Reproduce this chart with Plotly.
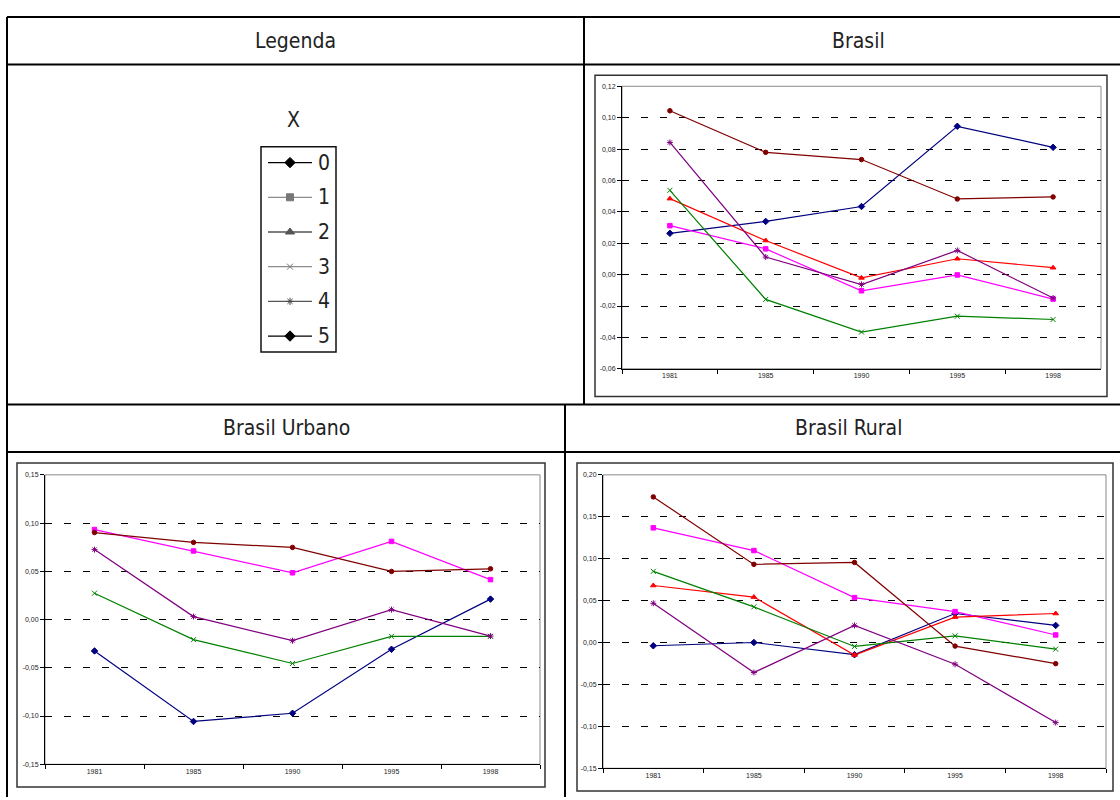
import plotly.graph_objects as go

# ---- data -------------------------------------------------------------
YEARS = ["1981", "1985", "1990", "1995", "1998"]
SERIES_NAMES = ["0", "1", "2", "3", "4", "5"]

# Brasil
brasil_0 = [0.0263, 0.0339, 0.0434, 0.0945, 0.0811]
brasil_1 = [0.0312, 0.0164, -0.0103, -0.0002, -0.0156]
brasil_2 = [0.0484, 0.0217, -0.0021, 0.0101, 0.0044]
brasil_3 = [0.0537, -0.0158, -0.0366, -0.0265, -0.0286]
brasil_4 = [0.0842, 0.0112, -0.0063, 0.0154, -0.0149]
brasil_5 = [0.1044, 0.0779, 0.0733, 0.0482, 0.0495]

# Brasil Urbano
urbano_0 = [-0.0325, -0.1056, -0.0971, -0.0308, 0.0212]
urbano_1 = [0.0933, 0.0711, 0.0485, 0.0810, 0.0414]
urbano_3 = [0.0273, -0.0208, -0.0455, -0.0174, -0.0174]
urbano_4 = [0.0725, 0.0031, -0.0219, 0.0103, -0.0171]
urbano_5 = [0.0902, 0.0800, 0.0748, 0.0499, 0.0526]

# Brasil Rural
rural_0 = [-0.0039, 0.0000, -0.0145, 0.0346, 0.0204]
rural_1 = [0.1368, 0.1097, 0.0535, 0.0369, 0.0090]
rural_2 = [0.0680, 0.0542, -0.0149, 0.0303, 0.0346]
rural_3 = [0.0849, 0.0425, -0.0047, 0.0079, -0.0079]
rural_4 = [0.0468, -0.0358, 0.0204, -0.0259, -0.0955]
rural_5 = [0.1737, 0.0932, 0.0955, -0.0043, -0.0252]

brasil_ticks = [-0.06, -0.04, -0.02, 0.0, 0.02, 0.04, 0.06, 0.08, 0.10, 0.12]
brasil_ticktext = ["-0,06", "-0,04", "-0,02", "0,00", "0,02", "0,04", "0,06", "0,08", "0,10", "0,12"]
urbano_ticks = [-0.15, -0.10, -0.05, 0.0, 0.05, 0.10, 0.15]
urbano_ticktext = ["-0,15", "-0,10", "-0,05", "0,00", "0,05", "0,10", "0,15"]
rural_ticks = [-0.15, -0.10, -0.05, 0.0, 0.05, 0.10, 0.15, 0.20]
rural_ticktext = ["-0,15", "-0,10", "-0,05", "0,00", "0,05", "0,10", "0,15", "0,20"]

HEADERS = ["Legenda", "Brasil", "Brasil Urbano", "Brasil Rural"]

# ---- styles -----------------------------------------------------------
W, H = 1120, 800
SERIES_STYLE = {
    "0": dict(color="#000080", symbol="diamond", size=5),
    "1": dict(color="#FF00FF", symbol="square", size=4.5),
    "2": dict(color="#FF0000", symbol="triangle-up", size=5),
    "3": dict(color="#008000", symbol="x-thin-open", size=5),
    "4": dict(color="#800080", symbol="asterisk-open", size=5),
    "5": dict(color="#800000", symbol="circle", size=4.5),
}
LEGEND_STYLE = {
    "0": dict(line="#000000", marker="#000000", symbol="diamond", size=8),
    "1": dict(line="#8c8c8c", marker="#777777", symbol="square", size=7),
    "2": dict(line="#555555", marker="#555555", symbol="triangle-up", size=8),
    "3": dict(line="#8c8c8c", marker="#777777", symbol="x-thin-open", size=6),
    "4": dict(line="#555555", marker="#444444", symbol="asterisk-open", size=6),
    "5": dict(line="#000000", marker="#000000", symbol="diamond", size=8),
}
HEAD_FONT = dict(family="Liberation Sans Narrow, DejaVu Sans Condensed, sans-serif", size=21, color="#222222")
TICK_FONT = dict(family="Liberation Sans, Arial, sans-serif", size=7, color="#222222")


def px(x):
    return x / W


def py(y):
    return 1 - y / H


fig = go.Figure()
shapes = []
annotations = []

panels = [
    dict(idx=1, plot=(622, 83, 1101, 368), frame=(595, 72, 1107, 396),
         yrange=(-0.06, 0.12), ticks=brasil_ticks, ticktext=brasil_ticktext,
         series={"0": brasil_0, "1": brasil_1, "2": brasil_2, "3": brasil_3, "4": brasil_4, "5": brasil_5}),
    dict(idx=2, plot=(45, 475, 540, 767), frame=(17, 463, 545, 790),
         yrange=(-0.15, 0.15), ticks=urbano_ticks, ticktext=urbano_ticktext,
         series={"0": urbano_0, "1": urbano_1, "3": urbano_3, "4": urbano_4, "5": urbano_5}),
    dict(idx=3, plot=(603, 475, 1106, 771), frame=(577, 463, 1113, 794),
         yrange=(-0.15, 0.20), ticks=rural_ticks, ticktext=rural_ticktext,
         series={"0": rural_0, "1": rural_1, "2": rural_2, "3": rural_3, "4": rural_4, "5": rural_5}),
]

layout_axes = {}
for p in panels:
    i = p["idx"]
    xn = "x" if i == 1 else f"x{i}"
    yn = "y" if i == 1 else f"y{i}"
    xk = "xaxis" if i == 1 else f"xaxis{i}"
    yk = "yaxis" if i == 1 else f"yaxis{i}"
    x0, y0, x1, y1 = p["plot"]
    layout_axes[xk] = dict(
        domain=[px(x0), px(x1)], anchor=yn, type="category",
        categoryorder="array", categoryarray=YEARS, range=[-0.5, 4.5],
        showline=True, linecolor="#000000", linewidth=1,
        ticks="outside", ticklen=4, tickcolor="#000000", tickson="boundaries",
        showgrid=False, zeroline=False, tickfont=TICK_FONT, fixedrange=True,
    )
    layout_axes[yk] = dict(
        domain=[py(y1), py(y0)], anchor=xn, range=list(p["yrange"]),
        tickmode="array", tickvals=p["ticks"], ticktext=p["ticktext"],
        showline=True, linecolor="#000000", linewidth=1,
        ticks="outside", ticklen=4, tickcolor="#000000",
        showgrid=True, gridcolor="#000000", gridwidth=1, griddash="7px,12px",
        zeroline=False, tickfont=TICK_FONT, fixedrange=True,
    )
    # outer chart frame
    fx0, fy0, fx1, fy1 = p["frame"]
    shapes.append(dict(type="rect", xref="paper", yref="paper",
                       x0=px(fx0), x1=px(fx1), y0=py(fy1), y1=py(fy0),
                       line=dict(color="#333333", width=1.5), layer="below"))
    # plot area border (top / right in gray)
    shapes.append(dict(type="rect", xref=f"{xn} domain", yref=f"{yn} domain",
                       x0=0, x1=1, y0=0, y1=1,
                       line=dict(color="#8a8a8a", width=1), layer="below"))
    for name in SERIES_NAMES:
        if name not in p["series"]:
            continue
        st = SERIES_STYLE[name]
        fig.add_trace(go.Scatter(
            x=YEARS, y=p["series"][name], mode="lines+markers", name=name,
            xaxis=xn, yaxis=yn, showlegend=False,
            line=dict(color=st["color"], width=1.2),
            marker=dict(symbol=st["symbol"], size=st["size"], color=st["color"],
                        line=dict(color=st["color"], width=1)),
        ))

# ---- legend panel (own axis) ------------------------------------------
BOX = (261, 144, 336, 351)
layout_axes["xaxis4"] = dict(domain=[px(BOX[0]), px(BOX[2])], anchor="y4",
                             range=[0, BOX[2] - BOX[0]], visible=False, fixedrange=True)
layout_axes["yaxis4"] = dict(domain=[py(BOX[3]), py(BOX[1])], anchor="x4",
                             range=[BOX[3] - BOX[1], 0], visible=False, fixedrange=True)
shapes.append(dict(type="rect", xref="x4 domain", yref="y4 domain", x0=0, x1=1, y0=0, y1=1,
                   line=dict(color="#111111", width=1.5)))
for k, name in enumerate(SERIES_NAMES):
    st = LEGEND_STYLE[name]
    row = 16 + 35 * k
    fig.add_trace(go.Scatter(x=[7, 51], y=[row, row], mode="lines", xaxis="x4", yaxis="y4",
                             showlegend=False, hoverinfo="skip",
                             line=dict(color=st["line"], width=1.3)))
    fig.add_trace(go.Scatter(x=[29], y=[row], mode="markers", xaxis="x4", yaxis="y4",
                             showlegend=False, hoverinfo="skip",
                             marker=dict(symbol=st["symbol"], size=st["size"], color=st["marker"],
                                         line=dict(color=st["marker"], width=1))))
    annotations.append(dict(x=55, y=row, xref="x4", yref="y4", text=name, showarrow=False,
                            xanchor="left", yanchor="middle",
                            font=dict(family=HEAD_FONT["family"], size=21, color="#222222")))
annotations.append(dict(x=px(293), y=py(117), xref="paper", yref="paper", text="X",
                        showarrow=False, xanchor="center", yanchor="middle",
                        font=dict(family=HEAD_FONT["family"], size=21, color="#222222")))

# ---- table grid and headers -------------------------------------------
for yline in (13, 61, 404, 452):
    shapes.append(dict(type="line", xref="paper", yref="paper", x0=px(7), x1=1.0,
                       y0=py(yline), y1=py(yline), line=dict(color="#000000", width=2)))
for xline, ya, yb in ((7, 13, 800), (584, 13, 404), (565, 404, 800)):
    shapes.append(dict(type="line", xref="paper", yref="paper", x0=px(xline), x1=px(xline),
                       y0=py(ya), y1=py(yb), line=dict(color="#000000", width=2)))

header_pos = [(295, 37), (858, 37), (286, 428), (848, 428)]
for text, (hx, hy) in zip(HEADERS, header_pos):
    annotations.append(dict(x=px(hx), y=py(hy), xref="paper", yref="paper", text=text,
                            showarrow=False, xanchor="center", yanchor="middle", font=HEAD_FONT))

fig.update_layout(
    width=W, height=H, margin=dict(l=0, r=0, t=0, b=0),
    paper_bgcolor="#ffffff", plot_bgcolor="#ffffff",
    shapes=shapes, annotations=annotations, showlegend=False,
    **layout_axes,
)

fig.write_html("out.html", config={"displayModeBar": False})
